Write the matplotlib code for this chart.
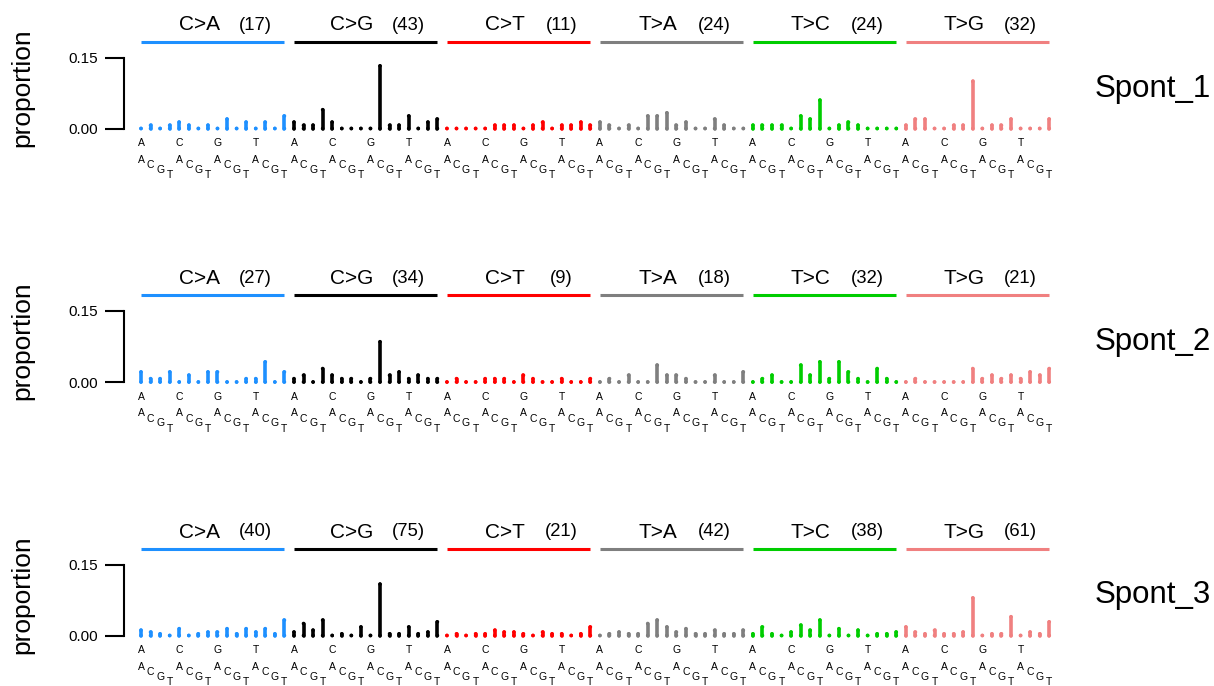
import matplotlib
matplotlib.use("Agg")
import matplotlib.pyplot as plt
import numpy as np

plt.rcParams['font.family'] = ['Liberation Sans', 'DejaVu Sans']

samples = ['Spont_1', 'Spont_2', 'Spont_3']
mut_types = ['C>A', 'C>G', 'C>T', 'T>A', 'T>C', 'T>G']
type_colors = ['#1E90FF', '#000000', '#FF0000', '#7F7F7F', '#00CD00', '#F08080']
bases = ['A', 'C', 'G', 'T']

# mutation counts per context: 16 per type, 5' base outer loop, 3' base inner loop
spont_1 = [
    [0, 1, 0, 1, 2, 1, 0, 1, 0, 3, 0, 2, 0, 2, 0, 4],
    [2, 1, 1, 6, 2, 0, 0, 0, 0, 20, 1, 1, 4, 0, 2, 3],
    [0, 0, 0, 0, 0, 1, 1, 1, 0, 1, 2, 0, 1, 1, 2, 1],
    [2, 1, 0, 1, 0, 4, 4, 5, 1, 2, 0, 0, 3, 1, 0, 0],
    [1, 1, 1, 1, 0, 4, 3, 9, 0, 1, 2, 1, 0, 0, 0, 0],
    [1, 3, 3, 0, 0, 1, 1, 15, 0, 1, 1, 3, 0, 0, 0, 3],
]
spont_2 = [
    [3, 1, 1, 3, 0, 2, 0, 3, 3, 0, 0, 1, 1, 6, 0, 3],
    [1, 2, 0, 4, 2, 1, 1, 0, 1, 12, 2, 3, 1, 2, 1, 1],
    [0, 1, 0, 0, 1, 1, 1, 0, 2, 1, 0, 0, 1, 0, 0, 1],
    [0, 1, 0, 2, 0, 0, 5, 2, 2, 1, 0, 0, 2, 0, 0, 3],
    [0, 1, 2, 0, 0, 5, 2, 6, 1, 6, 3, 1, 0, 4, 1, 0],
    [0, 1, 0, 0, 0, 0, 0, 4, 1, 2, 1, 2, 1, 3, 2, 4],
]
spont_3 = [
    [3, 2, 1, 0, 4, 0, 1, 2, 2, 4, 1, 4, 2, 4, 1, 9],
    [2, 7, 3, 9, 0, 1, 0, 5, 0, 30, 1, 1, 5, 1, 2, 8],
    [0, 1, 0, 1, 1, 3, 2, 2, 1, 0, 2, 1, 1, 0, 1, 5],
    [0, 1, 2, 1, 1, 7, 9, 5, 2, 4, 1, 1, 3, 1, 1, 3],
    [1, 5, 1, 0, 2, 6, 3, 9, 0, 4, 0, 3, 0, 1, 1, 2],
    [5, 2, 1, 3, 1, 1, 2, 22, 0, 1, 1, 11, 0, 2, 1, 8],
]
all_counts = [spont_1, spont_2, spont_3]

W, H = 1214, 686
base_px = [128.5, 382, 635.5]   # pixel row of the zero line of each panel
px = 0.15 / 71                  # data units per pixel (vertical)
bar_lw = 2.6

fig = plt.figure(figsize=(W / 100, H / 100), dpi=100)

for k, (name, counts) in enumerate(zip(samples, all_counts)):
    counts = np.array(counts)
    props = counts.flatten() / counts.sum()
    x = np.arange(96)
    cols = np.repeat(type_colors, 16)

    ax = fig.add_axes([124 / W, 1 - base_px[k] / H, 931 / W, 71 / H])
    ax.set_xlim(-1.778, 95.6)
    ax.set_ylim(0, 0.15)

    bars = ax.vlines(x, 0, props, colors=cols, lw=bar_lw, clip_on=False)
    bars.set_capstyle('round')
    ax.scatter(x, np.zeros(96), s=bar_lw ** 2, c=cols, lw=0, clip_on=False)
    ax.scatter(x, props, s=bar_lw ** 2, c=cols, lw=0, clip_on=False)

    for s in ['top', 'right', 'bottom']:
        ax.spines[s].set_visible(False)
    ax.spines['left'].set_bounds(0, 0.15)
    ax.spines['left'].set_linewidth(1.5)
    ax.set_xticks([])
    ax.set_yticks([0, 0.15])
    ax.set_yticklabels(['0.00', '0.15'])
    ax.tick_params(axis='y', length=13.7, width=1.5, labelsize=11, pad=5)

    # group headers
    for g, (mt, c) in enumerate(zip(mut_types, type_colors)):
        x0 = g * 16
        ax.plot([x0, x0 + 15], [87 * px, 87 * px], color=c, lw=2.2,
                solid_capstyle='butt', clip_on=False)
        ax.text(x0 + 6.07, 103.5 * px, mt, ha='center', va='center', fontsize=15)
        ax.text(x0 + 12, 103.5 * px, f'({counts[g].sum()})', ha='center',
                va='center', fontsize=13.3)

    # context letters under the bars
    for i in range(96):
        j = i % 16
        if j % 4 == 0:
            ax.annotate(bases[j // 4], (i, 0), xytext=(0, -14.5),
                        textcoords='offset pixels', ha='center', va='center',
                        fontsize=7.5)
        ax.annotate(bases[j % 4], (i, 0), xytext=(0, -31.5 - 5 * (j % 4)),
                    textcoords='offset pixels', ha='center', va='center',
                    fontsize=7.5)

    fig.text(22 / W, 1 - (base_px[k] - 41) / H, 'proportion', rotation=90,
             ha='center', va='center', fontsize=19)
    fig.text(1095 / W, 1 - (base_px[k] - 40) / H, name, ha='left',
             va='center', fontsize=22.5)

fig.savefig('out.png', dpi=100)
